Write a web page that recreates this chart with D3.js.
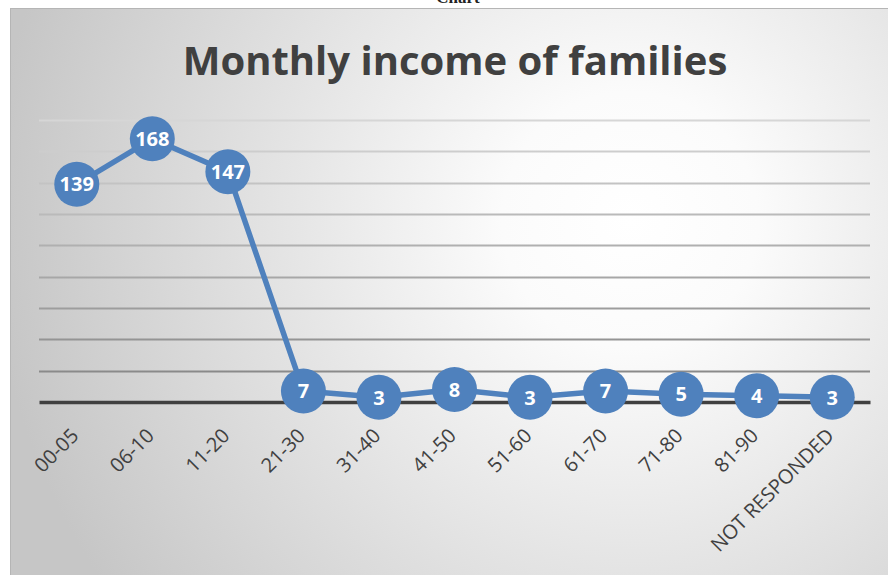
<!DOCTYPE html>
<html>
<head>
<meta charset="utf-8">
<script src="https://cdn.jsdelivr.net/npm/d3@7"></script>
<style>
  body { margin: 0; background: #fff; }
  svg { display: block; }
</style>
</head>
<body>
<div class="container"></div>
<script>
// data
var categories = ["00-05", "06-10", "11-20", "21-30", "31-40", "41-50", "51-60", "61-70", "71-80", "81-90", "NOT RESPONDED"];
var families = [139, 168, 147, 7, 3, 8, 3, 7, 5, 4, 3];
var yTicks = [0, 20, 40, 60, 80, 100, 120, 140, 160, 180];
var chartTitle = "Monthly income of families";

var W = 888, H = 575;
var margin = {top: 120, right: 18, bottom: 173, left: 39};
var width = W - margin.left - margin.right,
    height = 402 - margin.top;

var svg = d3.select(".container")
  .append("svg")
    .attr("width", W)
    .attr("height", H);

var defs = svg.append("defs");
var bg = defs.append("radialGradient")
  .attr("id", "bg")
  .attr("gradientUnits", "userSpaceOnUse")
  .attr("cx", 630).attr("cy", 220).attr("r", 640);
bg.append("stop").attr("offset", "0%").attr("stop-color", "#ffffff");
bg.append("stop").attr("offset", "20%").attr("stop-color", "#fbfbfb");
bg.append("stop").attr("offset", "100%").attr("stop-color", "#c6c6c6");

// caption cut off at top of the page
svg.append("text")
  .attr("x", 458)
  .attr("y", 3)
  .attr("text-anchor", "middle")
  .style("font-family", "Liberation Serif")
  .style("font-weight", "bold")
  .style("font-size", "17px")
  .attr("fill", "#222")
  .text("Chart");

// chart area
svg.append("rect")
  .attr("x", 10.5).attr("y", 8.5)
  .attr("width", W).attr("height", H)
  .attr("fill", "url(#bg)")
  .attr("stroke", "#b5b5b5")
  .attr("stroke-width", 1);

var title = svg.append("text")
  .attr("x", 455)
  .attr("y", 75)
  .attr("text-anchor", "middle")
  .style("font-family", "'Open Sans'")
  .style("font-weight", "bold")
  .style("font-size", "40px")
  .attr("fill", "#404040")
  .text(chartTitle);
var tw = title.node().getComputedTextLength();
title.style("font-size", (40 * 544 / tw).toFixed(1) + "px");

var g = svg.append("g")
  .attr("transform", "translate(" + margin.left + "," + margin.top + ")");

var x = d3.scaleBand()
  .domain(categories)
  .range([0, width]);

var y = d3.scaleLinear()
  .domain([0, 180])
  .range([height, 0]);

var gridColor = d3.scaleLinear()
  .domain([180, 20])
  .range(["#d6d6d6", "#8a8a8a"]);

// horizontal grid
g.append("g")
  .selectAll("line")
  .data(yTicks.filter(function(d) { return d > 0; }))
  .enter()
  .append("line")
    .attr("x1", 0)
    .attr("x2", width)
    .attr("y1", function(d) { return Math.round(y(d)) + 0.5; })
    .attr("y2", function(d) { return Math.round(y(d)) + 0.5; })
    .attr("stroke", function(d) { return gridColor(d); })
    .attr("stroke-width", 2);

// x axis (baseline + labels)
var xAxis = g.append("g")
  .attr("transform", "translate(0," + y(0) + ")")
  .call(d3.axisBottom(x).tickSize(0).tickPadding(0));
xAxis.attr("font-size", null).attr("font-family", null);
xAxis.select(".domain")
  .attr("stroke", "#404040")
  .attr("stroke-width", 3.5);
xAxis.selectAll(".tick text")
  .attr("font-family", "Open Sans")
  .attr("font-size", 20)
  .attr("fill", "#404040")
  .attr("text-anchor", "end")
  .attr("dy", "0.35em")
  .attr("transform", "translate(-2,30) rotate(-45)");

// line
var line = d3.line()
  .x(function(d, i) { return x(categories[i]) + x.bandwidth() / 2; })
  .y(function(d) { return y(d); });

g.append("path")
  .datum(families)
  .attr("d", line)
  .attr("fill", "none")
  .attr("stroke", "#4f81bd")
  .attr("stroke-width", 5.5)
  .attr("stroke-linejoin", "round");

// markers with labels
var pts = g.append("g")
  .selectAll("g")
  .data(families)
  .enter()
  .append("g")
    .attr("transform", function(d, i) {
      return "translate(" + (x(categories[i]) + x.bandwidth() / 2) + "," + y(d) + ")";
    });

pts.append("circle")
  .attr("r", 22.5)
  .attr("fill", "#4f81bd");

pts.append("text")
  .attr("text-anchor", "middle")
  .attr("dy", "0.36em")
  .style("font-family", "'Open Sans'")
  .style("font-weight", "bold")
  .style("font-size", "20px")
  .attr("fill", "#ffffff")
  .text(function(d) { return d; });
</script>
</body>
</html>
